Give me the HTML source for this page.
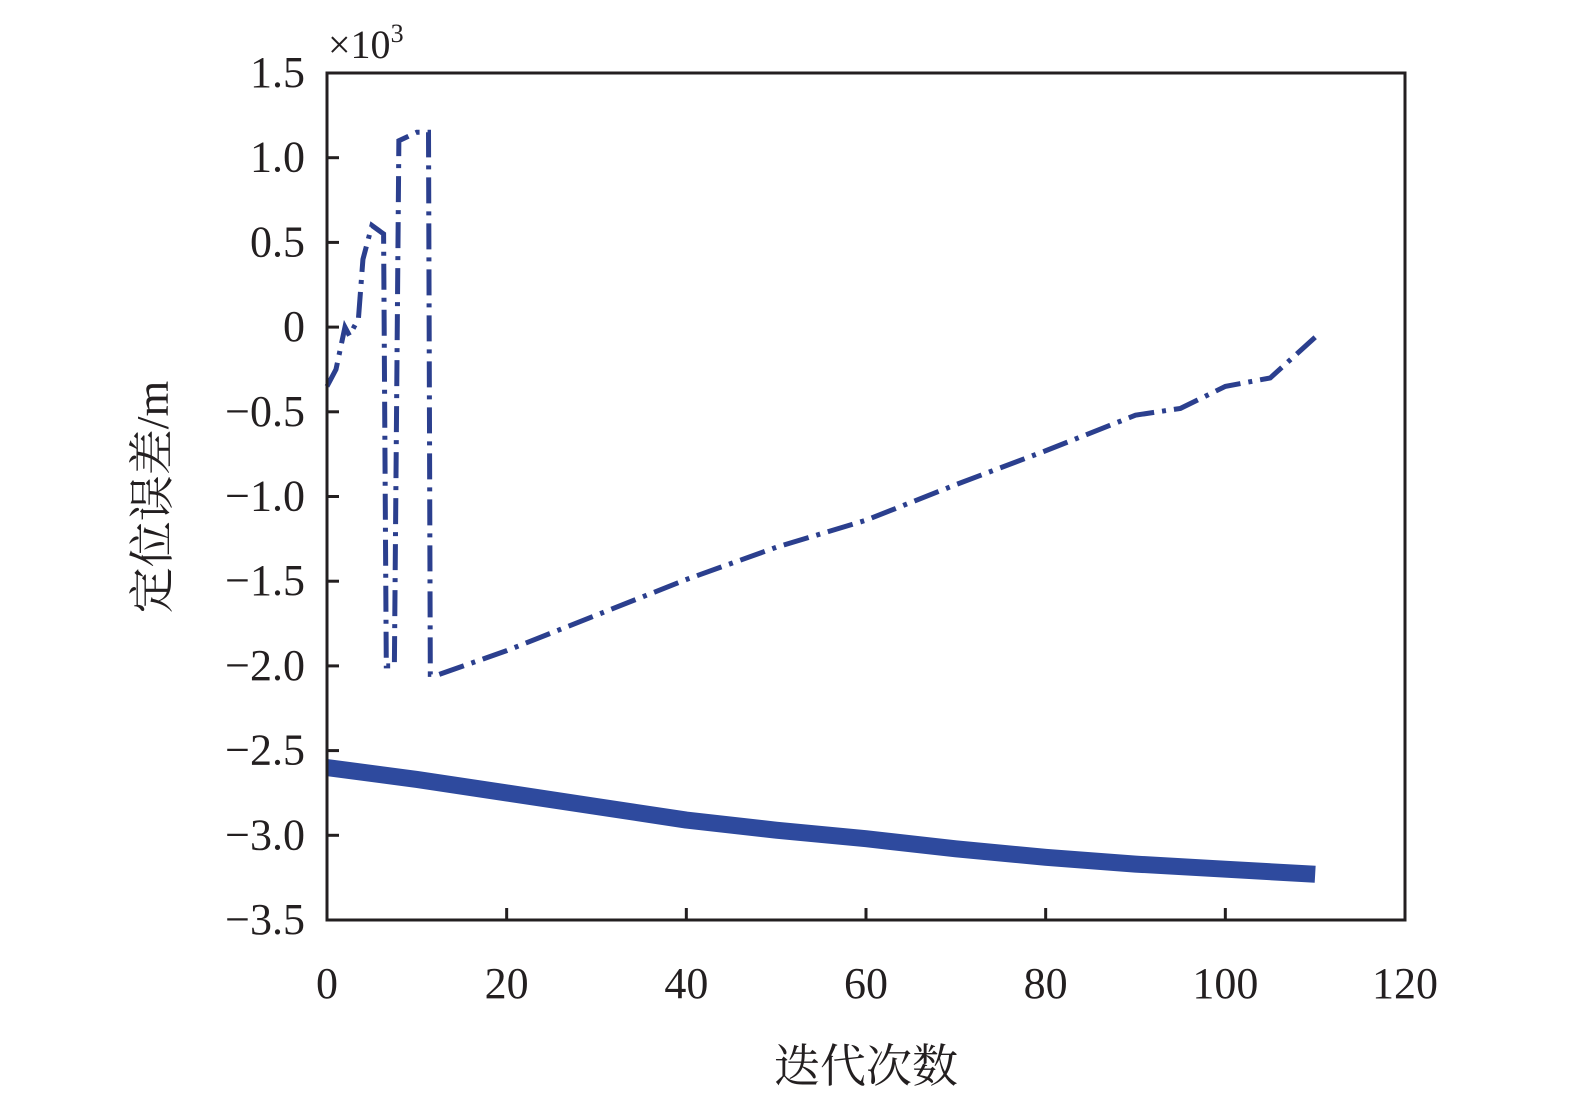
<!DOCTYPE html>
<html><head><meta charset="utf-8"><style>
body{margin:0;background:#fff;}
svg text{font-family:"Liberation Serif","Noto Serif CJK SC",serif;fill:#231f20;}
</style></head><body>
<svg id="chart" width="1575" height="1102" xmlns="http://www.w3.org/2000/svg">
<g id="axes"></g>
<g id="series"></g>
<rect x="327" y="73" width="1078" height="847" fill="none" stroke="#231f20" stroke-width="3"/>
<text x="328" y="58" font-size="40">×10<tspan font-size="26" dy="-16">3</tspan></text>
<text x="866" y="1082" font-size="46" text-anchor="middle">迭代次数</text>
<text transform="translate(168,497) rotate(-90)" font-size="46" text-anchor="middle">定位误差/m</text>
</svg>
<script>
const xTicks=[0,20,40,60,80,100,120];
const yTicks=[1.5,1.0,0.5,0,-0.5,-1.0,-1.5,-2.0,-2.5,-3.0,-3.5];
const yTickLabels=["1.5","1.0","0.5","0","\u22120.5","\u22121.0","\u22121.5","\u22122.0","\u22122.5","\u22123.0","\u22123.5"];
const upperX=[0,1,2,2.5,3,3.5,4,5,6.3,6.6,7.5,8,10,11.3,11.5,12.5,20,30,40,50,60,70,80,90,95,100,105,110];
const upperY=[-0.35,-0.25,0.0,-0.05,0.0,0.05,0.4,0.6,0.55,-2.0,-2.0,1.1,1.15,1.15,-2.05,-2.05,-1.91,-1.7,-1.49,-1.3,-1.14,-0.93,-0.73,-0.52,-0.48,-0.35,-0.3,-0.06];
const lowerX=[0,10,20,30,40,50,60,70,80,90,100,110];
const lowerY=[-2.6,-2.67,-2.75,-2.83,-2.91,-2.97,-3.02,-3.08,-3.13,-3.17,-3.2,-3.23];
const NS="http://www.w3.org/2000/svg";
const sx=v=>327+v*(1078/120);
const sy=v=>920-(v+3.5)*(847/5);
const axes=document.getElementById('axes');
const ser=document.getElementById('series');
function mk(tag,attrs,parent){const e=document.createElementNS(NS,tag);for(const k in attrs)e.setAttribute(k,attrs[k]);parent.appendChild(e);return e;}
xTicks.forEach(t=>{
 const l=mk('line',{x1:sx(t),x2:sx(t),y1:920,y2:908,stroke:'#231f20','stroke-width':3},axes);
 
 
 const tx=mk('text',{x:sx(t),y:998,'font-size':44,'text-anchor':'middle'},axes);
 tx.textContent=t;
 
 
});
yTicks.forEach((t,i)=>{
 const l=mk('line',{x1:327,x2:339,y1:sy(t),y2:sy(t),stroke:'#231f20','stroke-width':3},axes);
 
 
 const tx=mk('text',{x:305,y:sy(t)+14,'font-size':44,'text-anchor':'end'},axes);
 tx.textContent=yTickLabels[i];
 
 
});
const pts=(xs,ys)=>xs.map((x,i)=>sx(x)+','+sy(ys[i])).join(' ');
const lo=mk('polyline',{points:pts(lowerX,lowerY),fill:'none',stroke:'#2e4a9e','stroke-width':17,'stroke-linejoin':'round'},ser);


const up=mk('polyline',{points:pts(upperX,upperY),fill:'none',stroke:'#2b3f8e','stroke-width':5,'stroke-dasharray':'26,8,4,8'},ser);


</script>
</body></html>
